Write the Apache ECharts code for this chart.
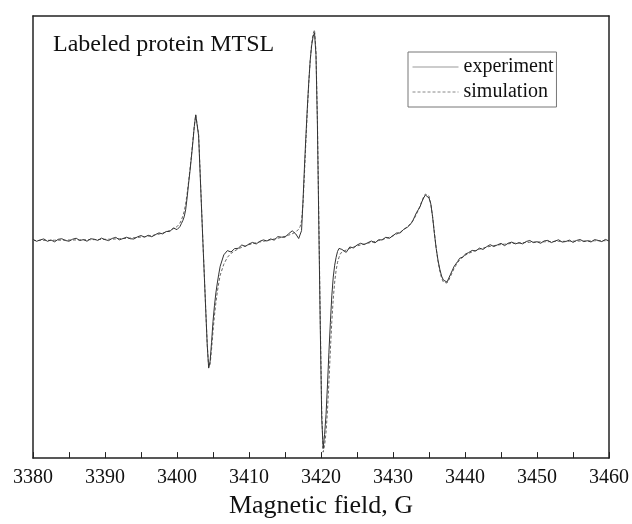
<!DOCTYPE html>
<html>
<head>
<meta charset="utf-8">
<script src="https://cdn.jsdelivr.net/npm/echarts@6/dist/echarts.min.js"></script>
<style>
  html, body { margin: 0; padding: 0; background: #fff; }
  #main { width: 632px; height: 524px; }
</style>
</head>
<body>
<div id="main"></div>
<script>
// magnetic field, G (finer step around the three lines)
const field = [
  3380, 3380.5, 3381, 3381.5, 3382, 3382.5, 3383, 3383.5, 3384, 3384.5, 3385, 3385.5, 3386, 3386.5, 3387, 3387.5, 3388, 3388.5, 3389, 3389.5,
  3390, 3390.5, 3391, 3391.5, 3392, 3392.5, 3393, 3393.5, 3394, 3394.5, 3395, 3395.5, 3396, 3396.5, 3397, 3397.5, 3398, 3398.5, 3399, 3399.5,
  3400, 3400.2, 3400.4, 3400.6, 3400.8, 3401, 3401.2, 3401.4, 3401.6, 3401.8, 3402, 3402.2, 3402.4, 3402.6, 3402.8, 3403,
  3403.2, 3403.4, 3403.6, 3403.8, 3404, 3404.2, 3404.4, 3404.6, 3404.8, 3405, 3405.2, 3405.4, 3405.6, 3405.8, 3406,
  3406.5, 3407, 3407.5, 3408, 3408.5, 3409, 3409.5, 3410, 3410.5, 3411, 3411.5, 3412, 3412.5, 3413, 3413.5, 3414, 3414.5, 3415, 3415.5, 3416, 3416.5,
  3416.7, 3416.9, 3417.1, 3417.3, 3417.5, 3417.7, 3417.9, 3418.1, 3418.3, 3418.5, 3418.7, 3418.9, 3419.1, 3419.3, 3419.5, 3419.7,
  3419.9, 3420.1, 3420.3, 3420.5, 3420.7, 3420.9, 3421.1, 3421.3, 3421.5, 3421.7, 3421.9, 3422.1, 3422.3, 3422.5, 3422.7, 3422.9,
  3423.5, 3424, 3424.5, 3425, 3425.5, 3426, 3426.5, 3427, 3427.5, 3428, 3428.5, 3429, 3429.5, 3430, 3430.5, 3431, 3431.5, 3432,
  3432.25, 3432.5, 3432.75, 3433, 3433.25, 3433.5, 3433.75, 3434, 3434.25, 3434.5, 3434.75, 3435, 3435.25, 3435.5, 3435.75, 3436,
  3436.25, 3436.5, 3436.75, 3437, 3437.25, 3437.5, 3437.75, 3438, 3438.25, 3438.5, 3438.75, 3439, 3439.25, 3439.5, 3439.75, 3440,
  3440.5, 3441, 3441.5, 3442, 3442.5, 3443, 3443.5, 3444, 3444.5, 3445, 3445.5, 3446, 3446.5, 3447, 3447.5, 3448, 3448.5, 3449, 3449.5, 3450,
  3450.5, 3451, 3451.5, 3452, 3452.5, 3453, 3453.5, 3454, 3454.5, 3455, 3455.5, 3456, 3456.5, 3457, 3457.5, 3458, 3458.5, 3459, 3459.5, 3460
];

// measured spectrum (a.u.)
const experiment = [
  1.2, -0.8, 0.6, 1.6, -0.8, 0.5, -1.3, 1.2, 1.8, 0, -0.7, 1.3, 2.3, 0, 0.9, -0.7, 1.8, 1.3, 0.1, 2.4,
  0.9, -0.1, 2.1, 3.2, 0.7, 2.0, 3.3, 1.8, 1.5, 3.7, 5.0, 3.4, 5.3, 3.8, 6.0, 7.7, 6.7, 9.1, 9.2, 12.6,
  11, 10, 14, 17, 20, 24, 31, 43, 57, 70, 84, 99, 115, 127, 129, 106,
  70, 34, -2, -37, -72, -106, -129, -122, -103, -82, -66, -53, -43, -34, -26,
  -14.5, -10.2, -11.6, -8.2, -7.9, -4.5, -6.0, -3.5, -1.9, -3.5, -0.8, 0.6, -0.5, 1.6, 0.4, 3.9, 3.4, 3.4, 6.8, 9.8, 6.6,
  5, 2, 0, 10, 40, 74, 105, 134, 160, 182, 197, 206, 210, 188, 118, 14,
  -88, -180, -210, -196, -176, -146, -113, -83, -56, -37, -25, -17, -11, -8, -7, -9,
  -12, -6.5, -7.5, -4.6, -2.8, -4.1, -2.2, -0.5, -2.4, 0.7, 0.6, 3.3, 2.2, 5.0, 7.6, 7.6, 11.4, 13.4,
  15, 17, 20, 24, 28, 31, 34, 39, 43, 46, 46, 43, 37, 24, 7, -8,
  -20, -29, -36, -40, -42, -42, -38, -34, -30, -26, -24, -21, -18, -17, -16.5, -14,
  -12.2, -10.0, -10.6, -7.7, -9.0, -6.3, -4.2, -6.1, -4.4, -2.9, -5.2, -2.7, -1.6, -3.4, -2.3, -3.4, -1.0, 0.0, -2.1, -1.2,
  -2.8, -0.4, 0.1, -2.1, -0.5, 0.7, -1.6, -1.0, 0.4, -1.9, 0.1, 1.0, -1.1, -0.2, -1.5, 0.9, 0.1, -1.1, 1.1, -0.5
];

// fitted spectrum (a.u.)
const simulation = [
  0, 0, 0.1, 0.1, 0.2, 0.2, 0.3, 0.3, 0.4, 0.4, 0.5, 0.5, 0.6, 0.6, 0.7, 0.8, 0.8, 0.9, 1.0, 1.1,
  1.2, 1.3, 1.4, 1.6, 1.8, 2.0, 2.2, 2.5, 2.8, 3.1, 3.5, 3.9, 4.4, 5.0, 5.7, 6.5, 7.5, 8.7, 10.2, 12.0,
  14, 15.5, 17.5, 20.5, 24.5, 29.5, 37, 47, 59, 72, 86, 101, 116, 127, 129, 108,
  72, 35, -1, -36, -71, -105, -128, -125, -110, -92, -76, -63, -52, -43, -35,
  -24, -17, -13, -10.5, -8.5, -6.8, -5.4, -4.2, -3.2, -2.3, -1.5, -0.8, 0, 0.7, 1.5, 2.3, 3.2, 4.2, 5.4, 6.8, 8.6,
  10, 11.5, 14, 20, 37, 67, 100, 131, 159, 182, 199, 209, 213, 192, 124, 22,
  -80, -172, -214, -207, -194, -172, -143, -111, -82, -59, -42, -30, -22, -17, -13, -11,
  -9.5, -8, -6.7, -5.5, -4.5, -3.6, -2.7, -1.9, -1.0, 0, 1.0, 2.1, 3.3, 4.7, 6.4, 8.5, 11, 14,
  15.5, 17.5, 20, 23, 26.5, 30.5, 35, 39.5, 44, 47, 48, 45, 37, 24, 8, -8,
  -21, -31, -38, -42, -44, -43, -40, -36, -32, -28, -25, -22, -20, -18, -16.5, -15,
  -13, -11.5, -10, -8.8, -7.7, -6.7, -5.9, -5.2, -4.6, -4.1, -3.7, -3.3, -3.0, -2.7, -2.4, -2.2, -2.0, -1.8, -1.6, -1.5,
  -1.4, -1.3, -1.2, -1.1, -1.0, -0.9, -0.8, -0.8, -0.7, -0.6, -0.6, -0.5, -0.5, -0.4, -0.4, -0.3, -0.3, -0.2, -0.2, -0.1
];

const seriesNames = ['experiment', 'simulation'];
const fieldTicks = [3380, 3460, 10];

const font = 'Liberation Serif, Times New Roman, serif';
const frame = { color: '#222', width: 1.5 };

const chart = echarts.init(document.getElementById('main'), null, { renderer: 'canvas' });

const plainAxis = {
  axisLine: { show: true, onZero: false, lineStyle: frame },
  axisTick: { show: false },
  axisLabel: { show: false },
  splitLine: { show: false }
};

const option = {
  animation: false,
  backgroundColor: '#fff',
  grid: { left: 33, right: 22, top: 16, bottom: 61 },
  graphic: [{
    type: 'text',
    left: 53,
    top: 33,
    style: { text: 'Labeled protein MTSL', fontSize: 24, fontFamily: font, fill: '#111' }
  }],
  legend: {
    orient: 'vertical',
    left: 408,
    top: 52,
    padding: [5, 3, 5, 4],
    itemGap: 5,
    itemWidth: 46,
    itemHeight: 14,
    borderColor: '#777',
    borderWidth: 1,
    textStyle: { fontSize: 20, fontFamily: font, color: '#111' },
    data: [
      { name: seriesNames[0], itemStyle: { opacity: 0 }, lineStyle: { color: '#999', width: 1 } },
      { name: seriesNames[1], itemStyle: { opacity: 0 }, lineStyle: { color: '#888', width: 1, type: [3, 2] } }
    ]
  },
  xAxis: [{
    type: 'value',
    min: fieldTicks[0],
    max: fieldTicks[1],
    interval: fieldTicks[2],
    position: 'bottom',
    name: 'Magnetic field, G',
    nameLocation: 'middle',
    nameGap: 31,
    nameTextStyle: { fontSize: 26, fontFamily: font, color: '#111' },
    axisLine: { show: true, onZero: false, lineStyle: frame },
    axisTick: { show: true, inside: true, length: 6, lineStyle: { color: '#222', width: 1 } },
    minorTick: { show: true, splitNumber: 2, length: 6, lineStyle: { color: '#222', width: 1 } },
    axisLabel: { fontSize: 20, fontFamily: font, color: '#111', margin: 10, formatter: v => String(v) },
    splitLine: { show: false }
  }, Object.assign({ type: 'value', min: fieldTicks[0], max: fieldTicks[1], position: 'top' }, plainAxis)],
  yAxis: [
    Object.assign({ type: 'value', min: -220, max: 227, position: 'left' }, plainAxis),
    Object.assign({ type: 'value', min: -220, max: 227, position: 'right' }, plainAxis)
  ],
  series: [{
    name: seriesNames[1],
    type: 'line',
    symbol: 'none',
    data: field.map((g, i) => [g, simulation[i]]),
    lineStyle: { color: '#666', width: 1, type: [3, 2] },
    itemStyle: { color: '#666' }
  }, {
    name: seriesNames[0],
    type: 'line',
    symbol: 'none',
    data: field.map((g, i) => [g, experiment[i]]),
    lineStyle: { color: '#333', width: 1 },
    itemStyle: { color: '#333' }
  }]
};

chart.setOption(option);
</script>
</body>
</html>
